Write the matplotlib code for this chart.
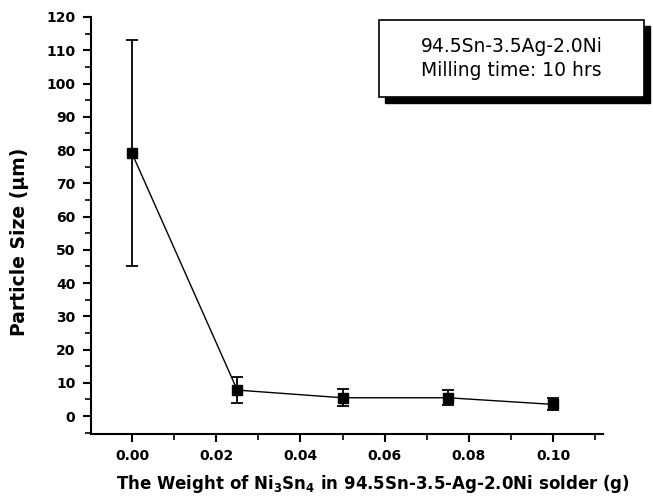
import matplotlib
matplotlib.use("Agg")
import matplotlib.pyplot as plt
from matplotlib.patches import Rectangle
from matplotlib.ticker import MultipleLocator

plt.rcParams['font.family'] = ['DejaVu Sans']
plt.rcParams['mathtext.default'] = 'regular'

# data
weight = [0.0, 0.025, 0.05, 0.075, 0.10]
size = [79.0, 7.8, 5.5, 5.5, 3.5]
err = [34.0, 3.9, 2.6, 2.2, 1.8]

fig = plt.figure(figsize=(6.53, 5.0), dpi=100)
ax = fig.add_axes([0.139, 0.132, 0.784, 0.834])

ax.errorbar(weight, size, yerr=err, color="black", marker="s", markersize=6.5,
            linewidth=1, elinewidth=1.3, capsize=4, capthick=1.3)

ax.set_xlim(-0.0098, 0.1118)
ax.set_ylim(-5.4, 120)
ax.xaxis.set_minor_locator(MultipleLocator(0.01))
ax.yaxis.set_major_locator(MultipleLocator(10))
ax.yaxis.set_minor_locator(MultipleLocator(5))
ax.set_xticks([0.0, 0.02, 0.04, 0.06, 0.08, 0.10])
ax.set_xticklabels(["0.00", "0.02", "0.04", "0.06", "0.08", "0.10"])

ax.spines["top"].set_visible(False)
ax.spines["right"].set_visible(False)
ax.spines["left"].set_linewidth(1.5)
ax.spines["bottom"].set_linewidth(1.5)
ax.tick_params(which="major", direction="out", length=6, width=1.5, labelsize=10, pad=5)
ax.tick_params(which="minor", direction="out", length=4, width=1.2)
for lab in ax.get_xticklabels() + ax.get_yticklabels():
    lab.set_fontweight("bold")

ax.set_ylabel("Particle Size (\u03bcm)", fontsize=13.5, fontweight="bold")
ax.yaxis.set_label_coords(-0.12, 0.46)
ax.set_xlabel(r"The Weight of Ni$_\mathbf{3}$Sn$_\mathbf{4}$ in 94.5Sn-3.5-Ag-2.0Ni solder (g)",
              fontsize=12, fontweight="bold")
ax.xaxis.set_label_coords(0.551, -0.094)

# legend style box with drop shadow (figure coordinates)
W, H = 653.0, 500.0
bx0, bx1, by0, by1 = 379, 644, 20, 97
sh = 6
fig.patches.append(Rectangle(((bx0 + sh) / W, 1 - (by1 + sh) / H), (bx1 - bx0) / W, (by1 - by0) / H,
                             transform=fig.transFigure, facecolor="black", edgecolor="black"))
fig.patches.append(Rectangle((bx0 / W, 1 - by1 / H), (bx1 - bx0) / W, (by1 - by0) / H,
                             transform=fig.transFigure, facecolor="white", edgecolor="black", linewidth=1.2))
fig.text((bx0 + bx1) / 2 / W, 1 - 46 / H, "94.5Sn-3.5Ag-2.0Ni", ha="center", va="center", fontsize=13.5)
fig.text((bx0 + bx1) / 2 / W, 1 - 71 / H, "Milling time: 10 hrs", ha="center", va="center", fontsize=13.5)

fig.savefig("out.png", dpi=100)
